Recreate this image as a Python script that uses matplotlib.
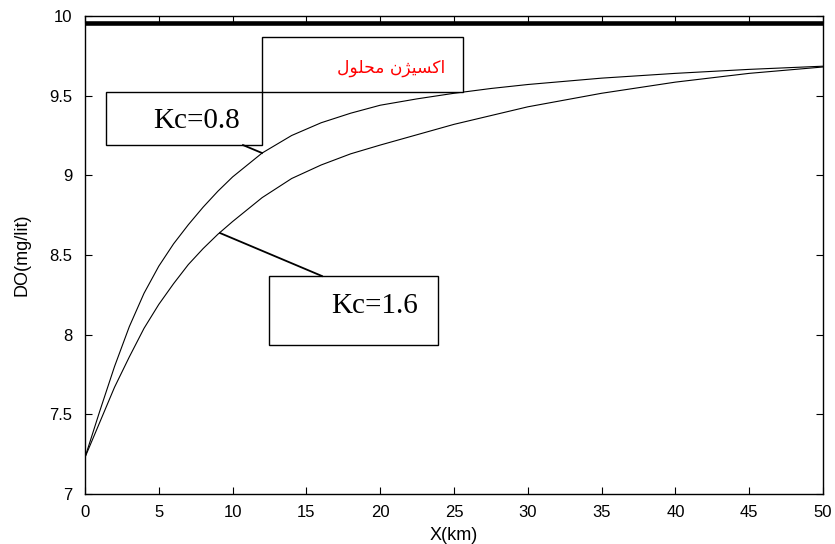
import matplotlib
matplotlib.use("Agg")
import matplotlib.pyplot as plt
from matplotlib.patches import Rectangle

# ---- data ----
x_km = [0, 1, 2, 3, 4, 5, 6, 7, 8, 9, 10, 12, 14, 16, 18, 20, 22.5, 25, 27.5, 30, 35, 40, 45, 50]
do_kc08 = [7.23, 7.52, 7.80, 8.05, 8.26, 8.43, 8.57, 8.69, 8.80, 8.90, 8.99, 9.14, 9.25, 9.33,
           9.39, 9.44, 9.48, 9.515, 9.545, 9.57, 9.61, 9.64, 9.665, 9.685]
do_kc16 = [7.23, 7.45, 7.67, 7.86, 8.04, 8.19, 8.32, 8.44, 8.54, 8.63, 8.71, 8.86, 8.98, 9.065,
           9.135, 9.19, 9.255, 9.32, 9.375, 9.43, 9.515, 9.585, 9.64, 9.68]
do_sat = 9.954
xticks = [0, 5, 10, 15, 20, 25, 30, 35, 40, 45, 50]
yticks = [7, 7.5, 8, 8.5, 9, 9.5, 10]
ytick_labels = ["7", "7.5", "8", "8.5", "9", "9.5", "10"]
label_kc08 = "Kc=0.8"
label_kc16 = "Kc=1.6"
# "اکسیژن محلول" written in visual order with presentation forms (matplotlib does no shaping)
label_sat = "\uFEDD\uFEEE\uFEE0\uFEA4\uFEE3 \uFEE5\uFB8B\uFEF4\uFEB4\uFEDB\uFE8D"

fig = plt.figure(figsize=(8.35, 5.44), dpi=100)
ax = fig.add_axes([85/835, 1-494/544, 738/835, 478/544])

ax.plot(x_km, do_kc08, color="black", lw=0.8)
ax.plot(x_km, do_kc16, color="black", lw=0.8)
ax.axhline(do_sat, color="black", lw=3.3)

ax.set_xlim(0, 50)
ax.set_ylim(7, 10)
ax.set_xticks(xticks)
ax.set_yticks(yticks)
ax.set_yticklabels(ytick_labels)
ax.tick_params(direction="in", length=5, width=0.8, top=True, right=True, labelsize=12)
ax.tick_params(axis="y", pad=9)
ax.tick_params(axis="x", pad=8)
for lab in ax.get_xticklabels() + ax.get_yticklabels():
    lab.set_family("Liberation Sans")
for s in ax.spines.values():
    s.set_linewidth(1.0)

ax.set_xlabel("X(km)", family="Liberation Sans", fontsize=13, va="center")
ax.set_ylabel("DO(mg/lit)", family="Liberation Sans", fontsize=13, va="center")
ax.xaxis.set_label_coords(0.5, (494 - 536) / 478)
ax.yaxis.set_label_coords((22 - 85) / 738, 0.5)

T = ax.transAxes
def box(x0, y0, x1, y1):
    ax.add_patch(Rectangle((x0, y0), x1 - x0, y1 - y0, transform=T, facecolor="white",
                           edgecolor="black", lw=1.0, zorder=5, clip_on=False))

box(0.2398, 0.841, 0.5122, 0.956)
box(0.0285, 0.730, 0.2398, 0.841)
box(0.2493, 0.3117, 0.4783, 0.456)

ax.plot([0.2141, 0.2398], [0.730, 0.7134], transform=T, color="black", lw=1.3, zorder=6)
ax.plot([0.1829, 0.3211], [0.546, 0.456], transform=T, color="black", lw=1.3, zorder=6)

ax.text(0.4146, 0.8912, label_sat, transform=T, color="red", fontsize=12.3,
        family=["DejaVu Sans"], ha="center", va="center", zorder=7)
ax.text(0.1518, 0.7803, label_kc08, transform=T, fontsize=21, family="Liberation Serif",
        ha="center", va="center", zorder=7)
ax.text(0.3930, 0.3933, label_kc16, transform=T, fontsize=21, family="Liberation Serif",
        ha="center", va="center", zorder=7)

fig.savefig("out.png", dpi=100, facecolor="white")
